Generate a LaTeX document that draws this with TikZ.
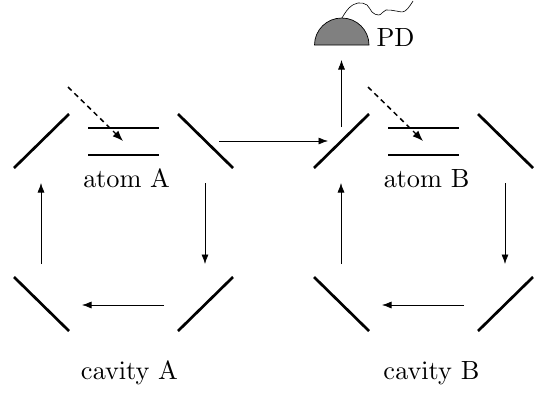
\documentclass[tikz,border=0pt]{standalone}
\usetikzlibrary{arrows.meta}
\font\labfont=cmr10 at 26.3pt
\tikzset{
  mirror/.style={line width=2.7pt},
  levelhi/.style={line width=1.5pt},
  levello/.style={line width=2pt},
  beam/.style={line width=0.7pt,-{Latex[length=9.5pt,width=7pt]}},
  pump/.style={line width=1.5pt,dash pattern=on 5pt off 4pt},
  pumptip/.style={line width=1.2pt,-{Latex[length=10.5pt,width=8pt]}},
  lab/.style={inner sep=0pt,font=\labfont}
}
\begin{document}
\begin{tikzpicture}[x=1pt,y=-1pt]
\useasboundingbox (0,0) rectangle (545,397);
% cavity A
\coordinate (a1) at (14,168); \coordinate (a2) at (69,114);
\coordinate (a3) at (178,114); \coordinate (a4) at (233,168);
\coordinate (a5) at (178,331); \coordinate (a6) at (233,277);
\coordinate (a7) at (14,277); \coordinate (a8) at (69,331);
\draw[mirror] (a1)--(a2); \draw[mirror] (a3)--(a4);
\draw[mirror] (a5)--(a6); \draw[mirror] (a7)--(a8);
\coordinate (al1) at (88,128); \coordinate (al2) at (159,128);
\coordinate (al3) at (88,155); \coordinate (al4) at (159,155);
\draw[levelhi] (al1)--(al2); \draw[levello] (al3)--(al4);
\coordinate (ap1) at (68,87); \coordinate (ap2) at (113,131); \coordinate (ap3) at (123,141);
\draw[pump] (ap1)--(ap2); \draw[pumptip] (ap2)--(ap3);
% cavity B
\coordinate (b1) at (314,168); \coordinate (b2) at (369,114);
\coordinate (b3) at (478,114); \coordinate (b4) at (533,168);
\coordinate (b5) at (478,331); \coordinate (b6) at (533,277);
\coordinate (b7) at (314,277); \coordinate (b8) at (369,331);
\draw[mirror] (b1)--(b2); \draw[mirror] (b3)--(b4);
\draw[mirror] (b5)--(b6); \draw[mirror] (b7)--(b8);
\coordinate (bl1) at (388,128); \coordinate (bl2) at (459,128);
\coordinate (bl3) at (388,155); \coordinate (bl4) at (459,155);
\draw[levelhi] (bl1)--(bl2); \draw[levello] (bl3)--(bl4);
\coordinate (bp1) at (368,87); \coordinate (bp2) at (413,131); \coordinate (bp3) at (423,141);
\draw[pump] (bp1)--(bp2); \draw[pumptip] (bp2)--(bp3);
% beams A
\coordinate (s1) at (205,183); \coordinate (e1) at (205,264);
\coordinate (s2) at (164,305); \coordinate (e2) at (82,305);
\coordinate (s3) at (41,264); \coordinate (e3) at (41,183);
\draw[beam] (s1)--(e1); \draw[beam] (s2)--(e2); \draw[beam] (s3)--(e3);
% beams B
\coordinate (t1) at (505,183); \coordinate (f1) at (505,264);
\coordinate (t2) at (464,305); \coordinate (f2) at (382,305);
\coordinate (t3) at (341,264); \coordinate (f3) at (341,183);
\draw[beam] (t1)--(f1); \draw[beam] (t2)--(f2); \draw[beam] (t3)--(f3);
% link and output
\coordinate (l1) at (219,141); \coordinate (l2) at (328,141);
\draw[beam] (l1)--(l2);
\coordinate (o1) at (341.5,127); \coordinate (o2) at (341.5,60);
\draw[beam] (o1)--(o2);
% detector
\coordinate (pdL) at (314.5,45); \coordinate (pdR) at (369,45);
\draw[fill=black!50,line width=0.7pt] (pdL) arc[start angle=180,end angle=0,x radius=27.25pt,y radius=27pt] -- cycle;
\draw[line width=0.6pt] plot[smooth,tension=0.7] coordinates {(342,18) (349,8) (358,3) (367,5) (372,12) (379,15) (386,10) (396,11) (405,11) (413,1)};
% labels
\node[lab] (atomA) at (126.5,179) {atom A};
\node[lab] (atomB) at (426.5,179) {atom B};
\node[lab] (cavA) at (129.5,373) {cavity A};
\node[lab] (cavB) at (431.5,373) {cavity B};
\node[lab] (pd) at (395.5,38) {PD};
\end{tikzpicture}
\end{document}
